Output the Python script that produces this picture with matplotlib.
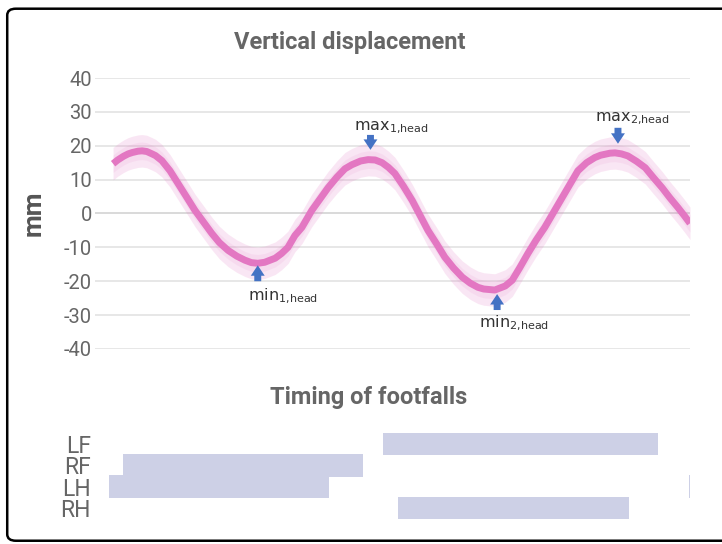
import matplotlib
matplotlib.use("Agg")
import matplotlib.pyplot as plt
from matplotlib.patches import FancyBboxPatch

plt.rcParams['font.family'] = ['Roboto', 'DejaVu Sans']
plt.rcParams['axes.unicode_minus'] = False

# head vertical displacement over the stride (% of gait cycle, mm)
cycle = [0.7, 1.5, 2.5, 3.3, 4.0, 5.0, 5.7, 6.5, 7.4, 8.0, 9.1, 10.5, 11.9, 13.3,
         14.8, 17.7, 19.0, 20.5, 22.0, 23.4, 24.5, 25.6, 26.8, 28.6, 29.7, 30.8,
         32.0, 33.2, 34.9, 37.7, 39.2, 40.6, 41.8, 43.3, 44.6, 45.8, 47.0, 48.1,
         49.2, 50.7, 52.2, 54.9, 56.4, 57.8, 59.3, 60.8, 62.2, 63.5, 64.5, 66.4,
         68.2, 69.4, 70.7, 72.1, 73.5, 75.0, 76.5, 78.0, 79.4, 80.7, 82.2, 83.6,
         84.6, 86.2, 87.1, 88.2, 89.3, 90.8, 92.3, 93.7, 95.2, 96.5, 97.9, 99.0, 100.0]
head = [14.7, 15.8, 16.9, 17.6, 18.0, 18.4, 18.5, 18.3, 17.6, 17.1, 15.6, 12.6, 8.8, 5.0,
        0.9, -5.9, -8.6, -10.9, -12.6, -13.8, -14.5, -14.7, -14.4, -13.2, -11.8, -10.0,
        -6.5, -4.1, 0.9, 7.6, 10.7, 13.2, 14.4, 15.5, 15.9, 15.8, 15.0, 13.6,
        11.8, 8.0, 3.8, -5.0, -9.0, -12.9, -16.1, -18.8, -20.6, -21.8, -22.3, -22.6,
        -21.4, -19.7, -16.0, -11.8, -7.9, -4.1, 0.3, 4.7, 8.8, 12.6, 15.0, 16.5,
        17.2, 17.8, 17.9, 17.6, 17.0, 15.4, 13.5, 10.6, 7.6, 4.7, 1.8, -0.6, -2.9]
spread = 4.8

# extrema markers: (label, x, arrow tip, arrow tail, text x, text y)
markers = [
    ("max$_{\\mathregular{1{,}head}}$", 45.0, 18.8, 23.2, 42.2, 25.3),
    ("min$_{\\mathregular{1{,}head}}$", 25.6, -15.3, -20.0, 23.9, -24.4),
    ("min$_{\\mathregular{2{,}head}}$", 66.8, -23.8, -28.5, 63.7, -32.4),
    ("max$_{\\mathregular{2{,}head}}$", 87.6, 20.6, 25.3, 83.6, 27.9),
]

# stance phases of each limb (% of gait cycle)
limbs = ["LF", "RF", "LH", "RH"]
stance_start = [[47.2], [2.4], [0.0, 99.8], [49.7]]
stance_end = [[94.5], [43.7], [37.9, 100.0], [89.5]]

grey = "#666666"
pink = "#e377c2"

fig = plt.figure(figsize=(7.22, 5.44), dpi=100)

# rounded card border
card = FancyBboxPatch((0.010, 0.006), 1.2, 0.978, boxstyle="round,pad=0,rounding_size=0.012",
                      transform=fig.transFigure, fc="white", ec="black", lw=1.8, zorder=-5)
fig.patches.append(card)

ax = fig.add_axes([0.1316, 0.3585, 0.8241, 0.4981])
ax.set_xlim(-2.41, 100)
ax.set_ylim(-40, 40)
ax.set_yticks(range(-40, 41, 10))
ax.set_xticks([])
for s in ax.spines.values():
    s.set_visible(False)
ax.tick_params(axis="y", length=0, pad=2, labelsize=14.5, labelcolor=grey)
ax.grid(axis="y", color="#e3e3e3", lw=1.2)
ax.axhline(0, color="#b0b0b0", lw=1.4, zorder=1)
ax.set_facecolor("none")

lo = [v - spread for v in head]
hi = [v + spread for v in head]
ax.fill_between(cycle, lo, hi, color=pink, alpha=0.18, lw=0, zorder=2)
ax.fill_between(cycle, [v - 2.6 for v in head], [v + 2.6 for v in head],
                color=pink, alpha=0.10, lw=0, zorder=2)
ax.plot(cycle, head, color=pink, lw=5, solid_capstyle="butt",
        solid_joinstyle="round", zorder=3)

for label, x, tip, tail, tx, ty in markers:
    ax.annotate("", xy=(x, tip), xytext=(x, tail),
                arrowprops=dict(arrowstyle="simple,head_width=1.0,head_length=0.75,tail_width=0.5",
                                fc="#4472c4", ec="none", mutation_scale=10,
                                shrinkA=0, shrinkB=0), zorder=4)
    ax.text(tx, ty, label, fontsize=11.5, color="#333333", va="center", ha="left",
            family=["DejaVu Sans"], zorder=4)

ax.set_ylabel("mm", fontsize=19, fontweight="bold", color="#555555", labelpad=13)
fig.text(0.485, 0.921, "Vertical displacement", ha="center", va="center",
         fontsize=17, fontweight="bold", color=grey)

# footfall timing
bx = fig.add_axes([0.1316, 0.046, 0.8241, 0.158])
bx.set_xlim(-2.41, 100)
bx.set_ylim(3.5, -0.5)
for i, name in enumerate(limbs):
    for a, b in zip(stance_start[i], stance_end[i]):
        bx.barh(i, b - a, left=a, height=1.08, color="#cdd0e6", lw=0)
bx.set_yticks(range(len(limbs)))
bx.set_yticklabels(limbs)
bx.set_xticks([])
for s in bx.spines.values():
    s.set_visible(False)
bx.tick_params(axis="y", length=0, pad=3, labelsize=16.5, labelcolor=grey)
bx.set_facecolor("none")
fig.text(0.51, 0.27, "Timing of footfalls", ha="center", va="center",
         fontsize=17, fontweight="bold", color=grey)

fig.savefig("out.png", dpi=100)
